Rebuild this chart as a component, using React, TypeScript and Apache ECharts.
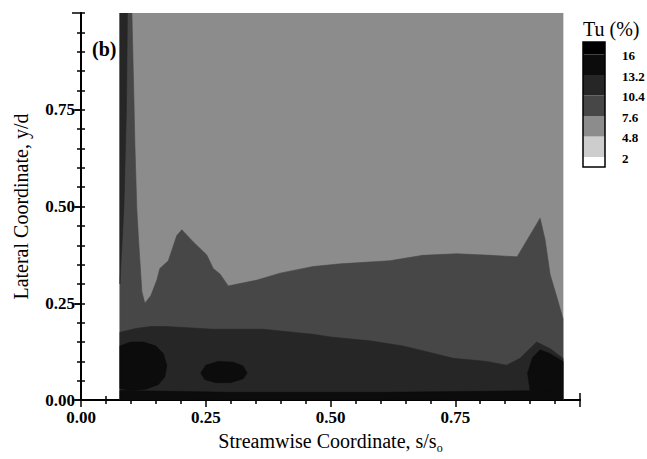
import React, { useEffect, useRef } from "react";
import * as echarts from "echarts";

// Turbulence-intensity level boundaries (Tu, %) and the fill used for each band:
// <2, 2–4.8, 4.8–7.6, 7.6–10.4, 10.4–13.2, 13.2–16, >16
const tuLevels = [2, 4.8, 7.6, 10.4, 13.2, 16];
const bandFills = ["#ffffff", "#cdcdcd", "#8c8c8c", "#474747", "#262626", "#0c0c0c", "#000000"];

// Tick labels on both axes
const xTicks = [0, 0.25, 0.5, 0.75];
const yTicks = [0, 0.25, 0.5, 0.75];

// Measured domain: s/s0 from 0.078 to 0.966, y/d from 0 to 1 (band 4.8–7.6 overall)
const measuredDomain: number[][] = [
  [0.078, 0], [0.078, 1], [0.966, 1], [0.966, 0],
];

// 7.6–10.4 contour: left wall strip plus the region below the upper boundary
const tu76: number[][] = [
  [0.078, 0], [0.078, 1], [0.102, 1], [0.106, 0.78], [0.108, 0.66], [0.112, 0.49],
  [0.116, 0.4], [0.122, 0.28], [0.128, 0.25], [0.14, 0.27], [0.152, 0.31],
  [0.158, 0.34], [0.175, 0.36], [0.192, 0.425], [0.202, 0.44], [0.224, 0.41],
  [0.252, 0.375], [0.265, 0.34], [0.279, 0.325], [0.295, 0.295], [0.353, 0.31],
  [0.399, 0.328], [0.465, 0.345], [0.52, 0.352], [0.619, 0.36], [0.685, 0.374],
  [0.753, 0.378], [0.82, 0.374], [0.874, 0.37], [0.92, 0.47], [0.93, 0.415],
  [0.94, 0.325], [0.955, 0.26], [0.966, 0.21], [0.966, 0],
];

// 10.4–13.2 contour: near-wall band and thin leading-edge strip
const tu104Band: number[][] = [
  [0.078, 0], [0.078, 0.175], [0.11, 0.185], [0.14, 0.19], [0.172, 0.19],
  [0.265, 0.183], [0.365, 0.183], [0.465, 0.17], [0.5, 0.163], [0.579, 0.153],
  [0.645, 0.14], [0.693, 0.125], [0.746, 0.108], [0.813, 0.1], [0.853, 0.09],
  [0.88, 0.108], [0.913, 0.15], [0.94, 0.133], [0.966, 0.108], [0.966, 0],
];
const tu104Strip: number[][] = [
  [0.078, 0.3], [0.078, 1], [0.093, 1], [0.091, 0.75], [0.086, 0.5],
];

// 13.2–16 contours: near-wall peaks
const tu132PeakA: number[][] = [
  [0.078, 0.03], [0.078, 0.14], [0.1, 0.15], [0.125, 0.15], [0.15, 0.14],
  [0.165, 0.12], [0.172, 0.09], [0.168, 0.06], [0.155, 0.04], [0.13, 0.028], [0.1, 0.025],
];
const tu132PeakB: number[][] = [
  [0.24, 0.07], [0.25, 0.09], [0.275, 0.1], [0.305, 0.098], [0.325, 0.088],
  [0.333, 0.07], [0.325, 0.055], [0.3, 0.045], [0.27, 0.045], [0.248, 0.053],
];
const tu132PeakC: number[][] = [
  [0.9, 0.025], [0.895, 0.07], [0.905, 0.11], [0.92, 0.13], [0.94, 0.12],
  [0.966, 0.1], [0.966, 0.025],
];
const tu132Wall: number[][] = [
  [0.078, 0], [0.078, 0.025], [0.3, 0.02], [0.6, 0.02], [0.966, 0.025], [0.966, 0],
];

// Paint order: lower bands first, each contour region with its band index
const regions = [
  { pts: measuredDomain, band: 2 },
  { pts: tu76, band: 3 },
  { pts: tu104Band, band: 4 },
  { pts: tu104Strip, band: 4 },
  { pts: tu132Wall, band: 5 },
  { pts: tu132PeakA, band: 5 },
  { pts: tu132PeakB, band: 5 },
  { pts: tu132PeakC, band: 5 },
];

const SERIF = "'Liberation Serif', 'Times New Roman', serif";

export default function App() {
  const ref = useRef<HTMLDivElement>(null);

  useEffect(() => {
    if (!ref.current) return;
    document.body.style.margin = "0";
    const chart = echarts.init(ref.current, undefined, { renderer: "svg" });

    const gridLeft = 81;
    const gridTop = 13;
    const gridW = 499;
    const gridH = 400;

    // Colour key: boxes stacked from the <2 band (bottom) to >16 (top)
    const keyX = 583;
    const keyW = 22;
    const keyTop = 42;
    const keyBottom = 167;
    const lowBoxH = 10;
    const boxH = 20.5;
    const keyGraphics: any[] = [];
    for (let b = 0; b < bandFills.length; b++) {
      let y0: number;
      let h: number;
      if (b === 0) {
        h = lowBoxH;
        y0 = keyBottom - h;
      } else {
        const lowerEdge = keyBottom - lowBoxH - (b - 1) * boxH;
        h = b === bandFills.length - 1 ? lowerEdge - keyTop : boxH;
        y0 = lowerEdge - h;
      }
      keyGraphics.push({
        type: "rect",
        shape: { x: keyX, y: y0, width: keyW, height: h },
        style: { fill: bandFills[b], stroke: null },
      });
    }
    keyGraphics.push({
      type: "rect",
      shape: { x: keyX, y: keyTop, width: keyW, height: keyBottom - keyTop },
      style: { fill: "none", stroke: "#000", lineWidth: 1.5 },
    });
    tuLevels.forEach((lv, i) => {
      const yEdge = keyBottom - lowBoxH - i * boxH;
      keyGraphics.push({
        type: "text",
        x: 622,
        y: yEdge + 1,
        style: {
          text: String(lv),
          font: `bold 13px ${SERIF}`,
          fill: "#000",
          textVerticalAlign: "middle",
          textAlign: "left",
        },
      });
    });

    const tickLabel = {
      fontFamily: SERIF,
      fontWeight: "bold" as const,
      fontSize: 17,
      color: "#000",
    };
    const axisLine = { show: true, lineStyle: { color: "#000", width: 2 } };

    chart.setOption({
      animation: false,
      grid: { left: gridLeft, top: gridTop, width: gridW, height: gridH, containLabel: false },
      xAxis: [
        {
          type: "value",
          position: "bottom",
          min: 0,
          max: 1,
          interval: 0.25,
          axisLine,
          axisTick: { show: true, inside: true, length: 7, lineStyle: { color: "#000", width: 1.5 } },
          minorTick: { show: true, splitNumber: 5, length: 4, lineStyle: { color: "#000", width: 1.5 } },
          splitLine: { show: false },
          axisLabel: {
            ...tickLabel,
            margin: 9,
            showMaxLabel: false,
            formatter: (v: number) => (xTicks.includes(v) ? v.toFixed(2) : ""),
          },
          name: "{m|Streamwise Coordinate, s/s}{s|o}",
          nameLocation: "middle",
          nameGap: 26,
          nameTextStyle: {
            rich: {
              m: { fontFamily: SERIF, fontSize: 20, color: "#000", verticalAlign: "top", lineHeight: 20 },
              s: {
                fontFamily: SERIF,
                fontSize: 12,
                color: "#000",
                verticalAlign: "top",
                lineHeight: 12,
                padding: [11, 0, 0, 0],
              },
            },
          },
        },
        {
          type: "value",
          position: "top",
          min: 0,
          max: 1,
          interval: 0.25,
          axisLine,
          axisTick: { show: true, inside: true, length: 7, lineStyle: { color: "#000", width: 1.5 } },
          minorTick: { show: true, splitNumber: 5, length: 4, lineStyle: { color: "#000", width: 1.5 } },
          splitLine: { show: false },
          axisLabel: { show: false },
        },
      ],
      yAxis: [
        {
          type: "value",
          position: "left",
          min: 0,
          max: 1,
          interval: 0.25,
          axisLine,
          axisTick: { show: true, inside: false, length: 6, lineStyle: { color: "#000", width: 1.5 } },
          splitLine: { show: false },
          axisLabel: {
            ...tickLabel,
            margin: 6,
            showMaxLabel: false,
            formatter: (v: number) => (yTicks.includes(v) ? v.toFixed(2) : ""),
          },
          name: "Lateral Coordinate, y/d",
          nameLocation: "middle",
          nameGap: 50,
          nameTextStyle: { fontFamily: SERIF, fontSize: 20, color: "#000" },
        },
        {
          type: "value",
          position: "right",
          min: 0,
          max: 1,
          interval: 0.25,
          axisLine,
          axisTick: { show: true, inside: true, length: 9, lineStyle: { color: "#000", width: 1.5 } },
          minorTick: { show: true, splitNumber: 5, length: 4, lineStyle: { color: "#000", width: 1.5 } },
          splitLine: { show: false },
          axisLabel: { show: false },
        },
        {
          type: "value",
          position: "left",
          min: 0,
          max: 1,
          interval: 0.05,
          axisLine: { show: false },
          axisTick: { show: true, inside: true, length: 4, lineStyle: { color: "#000", width: 1.5 } },
          splitLine: { show: false },
          axisLabel: { show: false },
        },
      ],
      series: [
        {
          type: "custom",
          xAxisIndex: 0,
          yAxisIndex: 0,
          clip: true,
          data: regions.map(() => [0.5, 0.5]),
          renderItem: (params: any, api: any) => {
            const r = regions[params.dataIndex];
            const points = r.pts.map((p) => api.coord(p));
            const fill = bandFills[r.band];
            return {
              type: "polygon",
              shape: { points },
              style: { fill, stroke: fill, lineWidth: 0.6 },
            };
          },
          z: 1,
        },
      ],
      graphic: [
        {
          type: "text",
          x: 92,
          y: 49,
          z: 10,
          style: {
            text: "(b)",
            font: `bold 20px ${SERIF}`,
            fill: "#000",
            textVerticalAlign: "middle",
          },
        },
        {
          type: "text",
          x: 583,
          y: 29,
          style: {
            text: "Tu (%)",
            font: `20px ${SERIF}`,
            fill: "#000",
            textVerticalAlign: "middle",
          },
        },
        ...keyGraphics,
      ],
    });

    return () => chart.dispose();
  }, []);

  return <div ref={ref} style={{ width: 647, height: 459 }} />;
}
